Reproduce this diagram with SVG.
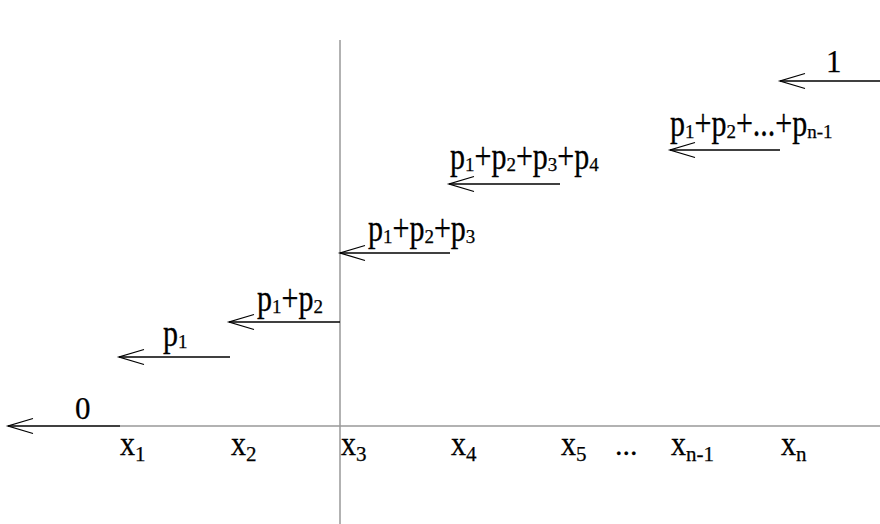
<svg xmlns="http://www.w3.org/2000/svg" width="880" height="524" viewBox="0 0 880 524">
<style>
text{font-family:"Liberation Serif","Times New Roman",serif;font-size:30px;fill:#000;stroke:#000;stroke-width:0.25}
.s{font-size:19px}
.xs{font-size:21px}
.big{font-size:31px}
.axis{stroke:#999;stroke-width:1.5;fill:none}
.arr{stroke:#000;stroke-width:1.3;fill:none}
</style>
<defs>
<marker id="open" markerUnits="userSpaceOnUse" markerWidth="30" markerHeight="20" refX="26" refY="8" orient="auto" viewBox="0 0 30 16">
<path d="M1,0.5 L26,8 L1,15.5" fill="none" stroke="#000" stroke-width="1.3"/>
</marker>
</defs>
<g id="axes">
<line class="axis" x1="120" y1="426" x2="880" y2="426"/>
<line class="axis" x1="340" y1="40" x2="340" y2="524"/>
</g>
<g id="connectors">
<line class="arr" x1="120" y1="426" x2="8" y2="426" marker-end="url(#open)"/>
<line class="arr" x1="230" y1="357" x2="119" y2="357" marker-end="url(#open)"/>
<line class="arr" x1="340" y1="322" x2="229" y2="322" marker-end="url(#open)"/>
<line class="arr" x1="450" y1="253" x2="340" y2="253" marker-end="url(#open)"/>
<line class="arr" x1="560" y1="184" x2="449" y2="184" marker-end="url(#open)"/>
<line class="arr" x1="780" y1="150" x2="670" y2="150" marker-end="url(#open)"/>
<line class="arr" x1="880" y1="81" x2="780" y2="81" marker-end="url(#open)"/>
</g>
<g id="n-0"><text class="big" x="75" y="419">0</text></g>
<g id="n-p1">
<text transform="translate(163,346) scale(1,1.23)">p</text>
<text class="s" x="178" y="347.5">1</text>
</g>
<g id="n-p12">
<text transform="translate(257,311) scale(1,1.23)">p</text>
<text class="s" x="272" y="312.5">1</text>
<text transform="translate(281.5,311) scale(1,1.23)">+p</text>
<text class="s" x="313.4" y="312.5">2</text>
</g>
<g id="n-p123">
<text transform="translate(368,241) scale(1,1.23)">p</text>
<text class="s" x="383" y="242.5">1</text>
<text transform="translate(392.5,241) scale(1,1.23)">+p</text>
<text class="s" x="424.4" y="242.5">2</text>
<text transform="translate(433.9,241) scale(1,1.23)">+p</text>
<text class="s" x="465.8" y="242.5">3</text>
</g>
<g id="n-p1234">
<text transform="translate(450,169) scale(1,1.23)">p</text>
<text class="s" x="465" y="170.5">1</text>
<text transform="translate(474.5,169) scale(1,1.23)">+p</text>
<text class="s" x="506.4" y="170.5">2</text>
<text transform="translate(515.9,169) scale(1,1.23)">+p</text>
<text class="s" x="547.8" y="170.5">3</text>
<text transform="translate(557.3,169) scale(1,1.23)">+p</text>
<text class="s" x="589.3" y="170.5">4</text>
</g>
<g id="n-p1n">
<text transform="translate(670,136) scale(1,1.23)">p</text>
<text class="s" x="685" y="137.5">1</text>
<text transform="translate(694.5,136) scale(1,1.23)">+p</text>
<text class="s" x="726.4" y="137.5">2</text>
<text transform="translate(735.9,136) scale(1,1.23)">+...+p</text>
<text class="s" x="807.3" y="137.5">n-1</text>
</g>
<g id="n-1"><text class="big" x="826" y="72">1</text></g>
<g id="xlabels">
<text transform="translate(120,455) scale(1,1.09)">x</text><text class="xs" x="135" y="461">1</text>
<text transform="translate(231,455) scale(1,1.09)">x</text><text class="xs" x="246" y="461">2</text>
<text transform="translate(341,455) scale(1,1.09)">x</text><text class="xs" x="356" y="461">3</text>
<text transform="translate(451,455) scale(1,1.09)">x</text><text class="xs" x="466" y="461">4</text>
<text transform="translate(561,455) scale(1,1.09)">x</text><text class="xs" x="576" y="461">5</text>
<text x="615" y="455">...</text>
<text transform="translate(671,455) scale(1,1.09)">x</text><text class="xs" x="686" y="461">n-1</text>
<text transform="translate(781,455) scale(1,1.09)">x</text><text class="xs" x="796" y="461">n</text>
</g>
</svg>
